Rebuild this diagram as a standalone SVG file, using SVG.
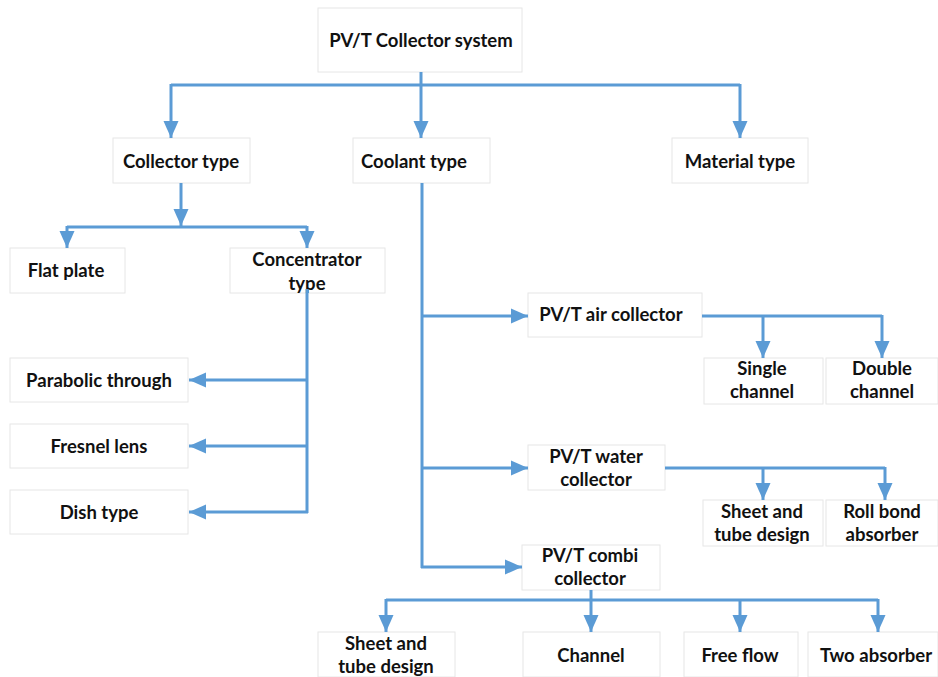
<svg xmlns="http://www.w3.org/2000/svg" width="938" height="677" viewBox="0 0 938 677">
  <style>
    .box { fill: #ffffff; stroke: #e6e6e6; stroke-width: 1; }
    .lbl { font-family: Lato, "Liberation Sans", sans-serif; font-weight: bold; font-size: 18.5px; fill: #111111; text-anchor: middle; dominant-baseline: middle; }
    .ln { fill: none; stroke: #5b9bd5; stroke-width: 3; }
    .arr { fill: none; stroke: #5b9bd5; stroke-width: 3; marker-end: url(#head); }
  </style>
  <defs>
    <marker id="head" markerUnits="userSpaceOnUse" markerWidth="18" markerHeight="18" viewBox="0 0 18 18" refX="17" refY="9" orient="auto">
      <path d="M0,1.5 L17,9 L0,16.5 Z" fill="#5b9bd5"/>
    </marker>
  </defs>
  <rect width="938" height="677" fill="#ffffff"/>

  <!-- nodes -->
  <g id="root"><rect class="box" x="318" y="8" width="204" height="64"/><text class="lbl" x="421" y="42">PV/T Collector system</text></g>
  <g id="collector-type"><rect class="box" x="113" y="138" width="137" height="45"/><text class="lbl" x="181" y="163">Collector type</text></g>
  <g id="coolant-type"><rect class="box" x="353" y="138" width="137" height="45"/><text class="lbl" x="414" y="163">Coolant type</text></g>
  <g id="material-type"><rect class="box" x="672" y="138" width="136" height="45"/><text class="lbl" x="740" y="163">Material type</text></g>
  <g id="flat-plate"><rect class="box" x="10" y="248" width="115" height="45"/><text class="lbl" x="66" y="272">Flat plate</text></g>
  <g id="concentrator-type"><rect class="box" x="230" y="248" width="155" height="45"/><text class="lbl" x="307" y="261">Concentrator</text><text class="lbl" x="307" y="285">type</text></g>
  <g id="parabolic"><rect class="box" x="10" y="358" width="178" height="44"/><text class="lbl" x="99" y="382">Parabolic through</text></g>
  <g id="fresnel"><rect class="box" x="10" y="424" width="178" height="44"/><text class="lbl" x="99" y="448">Fresnel lens</text></g>
  <g id="dish"><rect class="box" x="10" y="490" width="178" height="44"/><text class="lbl" x="99" y="514">Dish type</text></g>
  <g id="air-collector"><rect class="box" x="528" y="293" width="174" height="44"/><text class="lbl" x="611" y="316">PV/T air collector</text></g>
  <g id="single-channel"><rect class="box" x="704" y="358" width="119" height="46"/><text class="lbl" x="762" y="370">Single</text><text class="lbl" x="762" y="393">channel</text></g>
  <g id="double-channel"><rect class="box" x="826" y="358" width="112" height="46"/><text class="lbl" x="882" y="370">Double</text><text class="lbl" x="882" y="393">channel</text></g>
  <g id="water-collector"><rect class="box" x="528" y="445" width="137" height="45"/><text class="lbl" x="596" y="458">PV/T water</text><text class="lbl" x="596" y="481">collector</text></g>
  <g id="water-sheet-tube"><rect class="box" x="703" y="500" width="120" height="46"/><text class="lbl" x="762" y="513">Sheet and</text><text class="lbl" x="762" y="536">tube design</text></g>
  <g id="roll-bond"><rect class="box" x="826" y="500" width="112" height="46"/><text class="lbl" x="882" y="513">Roll bond</text><text class="lbl" x="882" y="536">absorber</text></g>
  <g id="combi-collector"><rect class="box" x="522" y="545" width="138" height="45"/><text class="lbl" x="590" y="557">PV/T combi</text><text class="lbl" x="590" y="580">collector</text></g>
  <g id="combi-sheet-tube"><rect class="box" x="318" y="632" width="137" height="45"/><text class="lbl" x="386" y="645">Sheet and</text><text class="lbl" x="386" y="668">tube design</text></g>
  <g id="channel"><rect class="box" x="523" y="632" width="137" height="45"/><text class="lbl" x="591" y="657">Channel</text></g>
  <g id="free-flow"><rect class="box" x="684" y="632" width="114" height="45"/><text class="lbl" x="740" y="657">Free flow</text></g>
  <g id="two-absorber"><rect class="box" x="808" y="632" width="130" height="45"/><text class="lbl" x="876" y="657">Two absorber</text></g>

  <!-- connectors -->
  <g id="connectors">
    <!-- root to first level -->
    <path class="ln" d="M171,85 H740"/>
    <path class="arr" d="M421,72 V138"/>
    <path class="arr" d="M171,84 V138"/>
    <path class="arr" d="M740,84 V138"/>
    <!-- collector type -->
    <path class="arr" d="M181,183 V226"/>
    <path class="ln" d="M67,227 H307"/>
    <path class="arr" d="M67,226 V248"/>
    <path class="arr" d="M307,226 V248"/>
    <!-- concentrator type -->
    <path class="ln" d="M307,289 V513"/>
    <path class="arr" d="M308,380 H189"/>
    <path class="arr" d="M308,446 H189"/>
    <path class="arr" d="M308,512 H189"/>
    <!-- coolant type -->
    <path class="ln" d="M422,183 V568"/>
    <path class="arr" d="M421,316 H528"/>
    <path class="arr" d="M421,468 H528"/>
    <path class="arr" d="M421,567 H522"/>
    <!-- air collector -->
    <path class="ln" d="M702,316 H882"/>
    <path class="arr" d="M763,315 V358"/>
    <path class="arr" d="M882,315 V358"/>
    <!-- water collector -->
    <path class="ln" d="M665,468 H885"/>
    <path class="arr" d="M763,467 V500"/>
    <path class="arr" d="M885,467 V500"/>
    <!-- combi collector -->
    <path class="ln" d="M591,590 V600"/>
    <path class="ln" d="M386,600 H878"/>
    <path class="arr" d="M386,599 V632"/>
    <path class="arr" d="M591,599 V632"/>
    <path class="arr" d="M740,599 V632"/>
    <path class="arr" d="M878,599 V632"/>
  </g>
</svg>
